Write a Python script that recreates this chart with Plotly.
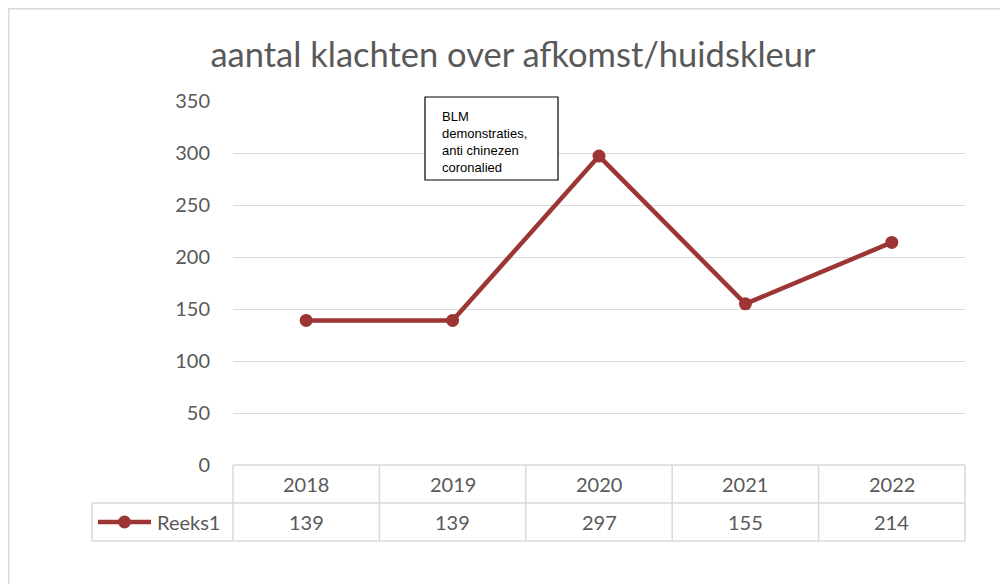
import plotly.graph_objects as go

years = ["2018", "2019", "2020", "2021", "2022"]
values = [139, 139, 297, 155, 214]
series_name = "Reeks1"
title_text = "aantal klachten over afkomst/huidskleur"
note_lines = ["BLM", "demonstraties,", "anti chinezen", "coronalied"]
y_ticks = [0, 50, 100, 150, 200, 250, 300, 350]

OFF = 8  # page body margin
W, H = 1000, 576
L, R, T, B = 233 - OFF, 965 - OFF, 101 - OFF, 465 - OFF  # plot area pixels (figure coords)
line_col = "#9C3533"
text_col = "#595959"
grid_col = "#D9D9D9"
font = "Lato, 'Open Sans', sans-serif"


def px(xp):
    # xp is in screenshot pixels
    return (xp - OFF - L) / (R - L)


def py(yp):
    return (B - (yp - OFF)) / (B - T)


fig = go.Figure()
xs = list(range(len(years)))
fig.add_trace(go.Scatter(
    x=xs, y=values, mode="lines+markers", name=series_name,
    line=dict(color=line_col, width=4.5),
    marker=dict(color=line_col, size=13),
    showlegend=False, cliponaxis=False,
))

shapes = []
# outer chart border
shapes.append(dict(type="rect", xref="paper", yref="paper",
                   x0=px(8.8), x1=px(1020), y0=py(8.8), y1=py(600),
                   line=dict(color=grid_col, width=1.5), fillcolor="rgba(0,0,0,0)", layer="below"))

# data table grid (screenshot pixels)
top, row1, row2 = 465, 503, 541
left_tab, right_tab, left_plot = 92, 965, 233
col_edges = [left_plot + (right_tab - left_plot) * i / len(years) for i in range(len(years) + 1)]
lc = dict(color=grid_col, width=1.5)
for xe in col_edges:
    shapes.append(dict(type="line", xref="paper", yref="paper",
                       x0=px(xe), x1=px(xe), y0=py(top), y1=py(row2), line=lc))
shapes.append(dict(type="line", xref="paper", yref="paper",
                   x0=px(left_tab), x1=px(left_tab), y0=py(row1), y1=py(row2), line=lc))
for yy in (row1, row2):
    shapes.append(dict(type="line", xref="paper", yref="paper",
                       x0=px(left_tab), x1=px(right_tab), y0=py(yy), y1=py(yy), line=lc))
shapes.append(dict(type="line", xref="paper", yref="paper",
                   x0=px(left_plot), x1=px(right_tab), y0=py(top), y1=py(top), line=lc))

# legend key in the table
ky = (row1 + row2) / 2
shapes.append(dict(type="line", xref="paper", yref="paper",
                   x0=px(98), x1=px(151), y0=py(ky), y1=py(ky),
                   line=dict(color=line_col, width=4.5)))
shapes.append(dict(type="circle", xref="paper", yref="paper",
                   x0=px(124.5 - 6.5), x1=px(124.5 + 6.5), y0=py(ky - 6.5), y1=py(ky + 6.5),
                   line=dict(color=line_col, width=0), fillcolor=line_col))

# note box
shapes.append(dict(type="rect", xref="paper", yref="paper",
                   x0=px(425), x1=px(558), y0=py(97), y1=py(180),
                   line=dict(color="black", width=1.2), fillcolor="white"))

annotations = []
for i, (yr, v) in enumerate(zip(years, values)):
    annotations.append(dict(x=i, xref="x", y=py((top + row1) / 2), yref="paper",
                            text=yr, showarrow=False, xanchor="center", yanchor="middle",
                            font=dict(family=font, size=20, color=text_col)))
    annotations.append(dict(x=i, xref="x", y=py(ky), yref="paper",
                            text=str(v), showarrow=False, xanchor="center", yanchor="middle",
                            font=dict(family=font, size=20, color=text_col)))
annotations.append(dict(x=px(155), xref="paper", y=py(ky), yref="paper",
                        text=series_name, showarrow=False, xanchor="left", yanchor="middle",
                        font=dict(family=font, size=20, color=text_col)))
annotations.append(dict(x=px(440), xref="paper", y=py(107), yref="paper",
                        text="<br>".join(note_lines), showarrow=False,
                        xanchor="left", yanchor="top", align="left",
                        font=dict(family="'Liberation Sans', Arial, sans-serif", size=13, color="black")))

fig.update_layout(
    width=W, height=H,
    margin=dict(l=L, r=W - R, t=T, b=H - B, pad=0),
    paper_bgcolor="white", plot_bgcolor="white",
    title=dict(text=title_text, x=(513 - OFF) / W, xanchor="center",
               y=1 - (55 - OFF) / H, yanchor="middle",
               font=dict(family=font, size=34.5, color=text_col)),
    xaxis=dict(range=[-0.5, len(years) - 0.5], showticklabels=False, showgrid=False,
               zeroline=False, showline=False, ticks="", fixedrange=True),
    yaxis=dict(range=[0, 350], tickvals=y_ticks, showgrid=True, gridcolor=grid_col, gridwidth=1.3,
               zeroline=False, showline=False, ticks="", ticklabelstandoff=22,
               tickfont=dict(family=font, size=20, color=text_col)),
    shapes=shapes, annotations=annotations,
)

fig.write_html("out.html")
